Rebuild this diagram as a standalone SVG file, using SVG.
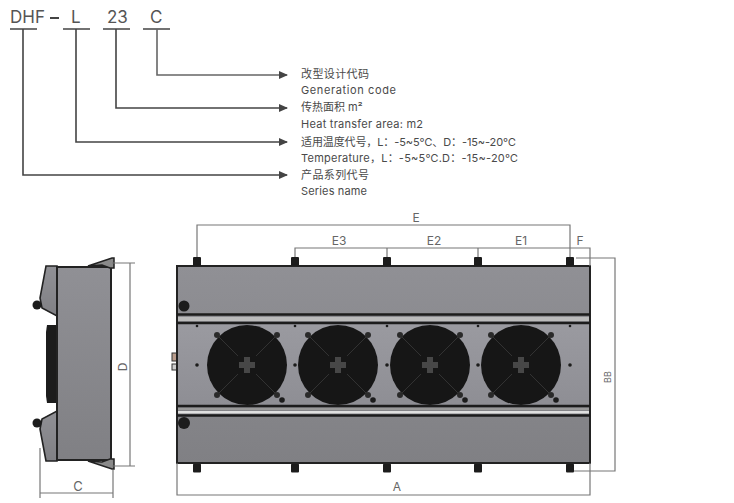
<svg xmlns="http://www.w3.org/2000/svg" width="734" height="503" viewBox="0 0 734 503">
<defs>
<style>
text{font-family:"Inter","Noto Sans CJK SC",sans-serif;fill:#4a4a4a}
.lab{font-size:11px}
.code{font-size:17px;fill:#555}
.dim{font-size:12px;fill:#666;text-anchor:middle}
.cl{fill:none;stroke:#444;stroke-width:1.6}
.d{fill:none;stroke:#777;stroke-width:1.2}
.k{fill:#1c1c1c}
.body{fill:url(#g);stroke:#222;stroke-width:1.6}
</style>
<marker id="a" markerWidth="10" markerHeight="8" refX="8" refY="4" orient="auto" markerUnits="userSpaceOnUse"><path d="M0 0L9 4L0 8Z" fill="#444"/></marker>
<linearGradient id="g" x1="0" y1="0" x2="0" y2="1"><stop offset="0" stop-color="#909095"/><stop offset="1" stop-color="#808084"/></linearGradient>
<linearGradient id="g2" x1="0" y1="0" x2="0" y2="1"><stop offset="0" stop-color="#9a9aa0"/><stop offset="1" stop-color="#8e8e94"/></linearGradient>
<filter id="b" x="-5%" y="-5%" width="110%" height="110%"><feGaussianBlur stdDeviation="0.6"/></filter>
<g id="fan">
<circle r="40" fill="#171717"/>
<circle cx="-30" cy="-30" r="3" fill="#2c2c2c"/><circle cx="30" cy="-30" r="3" fill="#2c2c2c"/><circle cx="-30" cy="30" r="3" fill="#2c2c2c"/><circle cx="30" cy="30" r="3" fill="#2c2c2c"/>
<path d="M-28-28L-9-9M28-28L9-9M-28 28L-9 9M28 28L9 9" stroke="#303030" stroke-width="1"/>
<path d="M-3-8H3V-3H8V3H3V8H-3V3H-8V-3H-3Z" fill="#464646"/>
</g>
<rect id="bolt" x="-4" y="-4.500" width="8" height="9" rx="1" fill="#1e1e1e"/>
</defs>
<rect width="734" height="503" fill="#fff"/>

<g id="model-code">
<text class="code" x="10" y="23">DHF</text><path d="M50 18H59" stroke="#444" stroke-width="2"/><text class="code" x="71" y="23">L</text><text class="code" x="107" y="23">23</text><text class="code" x="150" y="23">C</text>
</g>
<g id="connectors">
<path class="cl" d="M10 29H37M63 29H90M103 29H130M143 29H170"/>
<path class="cl" style="stroke:#666" marker-end="url(#a)" d="M157 29V75H287"/>
<path class="cl" marker-end="url(#a)" d="M116 29V108H287"/>
<path class="cl" marker-end="url(#a)" d="M76 29V142H287"/>
<path class="cl" marker-end="url(#a)" d="M23 29V175H287"/>
</g>
<g id="label-generation"><text class="lab" x="301" y="78" textLength="68">改型设计代码</text><text class="lab" x="301" y="94" textLength="95">Generation code</text></g>
<g id="label-area"><text class="lab" x="301" y="111">传热面积 m²</text><text class="lab" x="301" y="128" textLength="122">Heat transfer area: m2</text></g>
<g id="label-temp"><text class="lab" x="301" y="146" textLength="215">适用温度代号，L：-5~5℃、D：-15~-20℃</text><text class="lab" x="301" y="162" textLength="217">Temperature，L：-5~5℃.D：-15~-20℃</text></g>
<g id="label-series"><text class="lab" x="301" y="179" textLength="68">产品系列代号</text><text class="lab" x="301" y="195" textLength="66">Series name</text></g>

<g id="side-view" filter="url(#b)">
<path d="M46 266H57V316L42 308L40 298Z" class="body" stroke-width="2"/>
<path d="M46 461H57V411L42 419L40 429Z" class="body" stroke-width="2"/>
<circle cx="37" cy="305" r="4.500" class="k"/><circle cx="37" cy="423" r="4.500" class="k"/>
<path d="M47 325H56V403H47L46 396V332Z" class="k"/>
<rect x="57" y="267" width="54" height="193" class="body" style="stroke-width:2"/>
<path d="M88 266L112 258H114V268H110L102 265Z" fill="#8a8a8a" stroke="#222" stroke-width="1.500"/>
<path d="M88 461L112 469H114V459H110L102 462Z" fill="#8a8a8a" stroke="#222" stroke-width="1.500"/>
</g>
<g id="side-dimensions">
<path class="d" d="M112 263H135M112 466H135M130 263V466M40 448V498M113 470V498M40 493H113"/>
<text class="dim" transform="translate(127 367) rotate(-90)">D</text>
<text class="dim" x="78" y="491" style="font-size:13px">C</text>
</g>

<g id="front-view" filter="url(#b)">
<rect x="172" y="353" width="6" height="8" fill="#b99c8c" stroke="#333"/>
<rect x="172" y="364" width="6" height="6" fill="#ccc" stroke="#333"/>
<rect x="177" y="266" width="413" height="197" class="body" style="stroke-width:2"/>
<rect x="178" y="324" width="411" height="82" fill="url(#g2)"/>
<path d="M177 314.500H590M177 323H590M177 406H590M177 415.500H590" stroke="#1c1c1c" stroke-width="2.500"/>
<rect x="178" y="317" width="411" height="4" fill="#bbb"/>
<rect x="178" y="408" width="411" height="2" fill="#999"/>
<rect x="178" y="411" width="411" height="2.500" fill="#e0e0e0"/>
<circle cx="184" cy="306" r="5.500" class="k"/><circle cx="184" cy="423" r="6" class="k"/>
<use href="#fan" x="247" y="365"/><use href="#fan" x="338" y="365"/><use href="#fan" x="430" y="365"/><use href="#fan" x="521" y="365"/>
<g class="k"><circle cx="197" cy="365" r="1.800"/><circle cx="295" cy="365" r="1.800"/><circle cx="387" cy="365" r="1.800"/><circle cx="478" cy="365" r="1.800"/><circle cx="570" cy="365" r="1.800"/>
<circle cx="197" cy="326" r="1.300"/><circle cx="295" cy="326" r="1.300"/><circle cx="387" cy="326" r="1.300"/><circle cx="478" cy="326" r="1.300"/><circle cx="570" cy="326" r="1.300"/>
<circle cx="282" cy="400" r="2.800"/><circle cx="373" cy="400" r="2.800"/><circle cx="465" cy="400" r="2.800"/><circle cx="556" cy="400" r="2.800"/></g>
<use href="#bolt" x="197" y="261.500"/><use href="#bolt" x="295" y="261.500"/><use href="#bolt" x="387" y="261.500"/><use href="#bolt" x="478" y="261.500"/><use href="#bolt" x="570" y="261.500"/>
<use href="#bolt" x="197" y="468"/><use href="#bolt" x="295" y="468"/><use href="#bolt" x="387" y="468"/><use href="#bolt" x="478" y="468"/><use href="#bolt" x="570" y="468"/>
</g>
<g id="front-dimensions">
<path class="d" d="M197 257V225H570V257M295 257V248H590V266M387 248V257M478 248V257M576 258H615V471H574M177 463V495H590V463"/>
<text class="dim" x="416" y="222">E</text><text class="dim" x="339" y="245">E3</text><text class="dim" x="434" y="245">E2</text><text class="dim" x="521" y="245">E1</text><text class="dim" x="580" y="245">F</text><text class="dim" x="397" y="491">A</text>
<text class="dim" transform="translate(611 377) rotate(-90)" style="font-size:9px">BB</text>
</g>
</svg>
